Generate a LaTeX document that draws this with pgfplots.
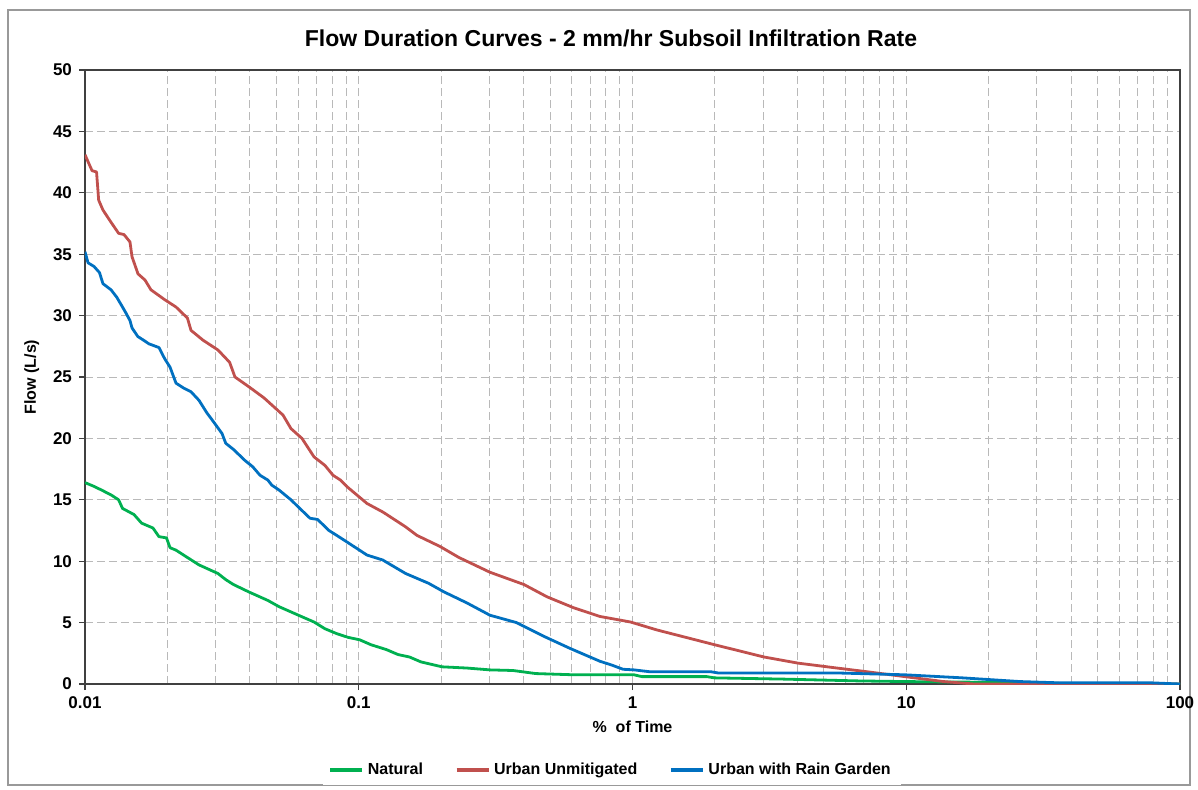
\documentclass[border=0pt]{standalone}
\usepackage{pgfplots}
\pgfplotsset{compat=1.18}
\usepackage{fontspec}
\setmainfont{Liberation Sans}
\definecolor{natgreen}{RGB}{0,176,80}
\definecolor{urbred}{RGB}{192,80,77}
\definecolor{rgblue}{RGB}{0,112,192}
\definecolor{gridgray}{RGB}{185,185,185}
\definecolor{axgray}{RGB}{64,64,64}
\begin{document}
\begin{tikzpicture}
\path[use as bounding box] (0pt,0pt) rectangle (599pt,394.5pt);
\draw[gray!80, line width=0.8pt] (4pt,2pt) rectangle (595pt,389.5pt);
\node[font=\bfseries\fontsize{11.5}{13}\selectfont] at (305.5pt,375.5pt) {Flow Duration Curves - 2 mm/hr Subsoil Infiltration Rate};
\begin{axis}[
  at={(42.5pt,52.5pt)}, anchor=south west,
  scale only axis, width=547.5pt, height=307pt,
  xmode=log, xmin=0.01, xmax=100, ymin=0, ymax=50,
  xtick={0.01,0.1,1,10,100}, xticklabels={0.01,0.1,1,10,100},
  ytick={0,5,...,50},
  /pgf/number format/assume math mode=true,
  tick label style={font=\bfseries\fontsize{8.5}{10}\selectfont},
  label style={font=\bfseries\fontsize{8}{10}\selectfont},
  xlabel={\%\ \ of Time}, ylabel={Flow (L/s)},
  xlabel style={yshift=1pt},
  ylabel style={yshift=0pt},
  grid=both,
  major grid style={gridgray, dash pattern=on 4pt off 2pt, line width=0.5pt},
  minor grid style={gridgray, dash pattern=on 4pt off 2pt, line width=0.5pt},
  axis line style={axgray, line width=0.8pt},
  tick style={axgray, line width=0.6pt},
  major tick length=3pt, minor tick length=0pt,
  tick align=outside, tick pos=left,
  legend style={at={(0.481,-0.14)}, anchor=center, draw=none, legend columns=3,
    font=\bfseries\fontsize{8}{10}\selectfont,
    /tikz/every even column/.append style={column sep=14pt}},
  legend image code/.code={\draw[#1, line width=1.6pt] (0pt,0pt) -- (16pt,0pt);},
  every axis plot/.append style={line width=1.4pt, line join=round},
]
\addplot[natgreen] coordinates {
(0.01,16.4)(0.01077,16.1)(0.01148,15.8)(0.01245,15.4)(0.01327,15.0)(0.01371,14.3)
(0.0151,13.8)(0.0161,13.1)(0.01772,12.7)(0.01863,12.0)(0.01985,11.9)(0.02045,11.1)
(0.0215,10.9)(0.02367,10.3)(0.02609,9.7)(0.0306,9.0)(0.03268,8.5)(0.03487,8.1)
(0.03966,7.5)(0.04661,6.8)(0.05112,6.3)(0.06025,5.6)(0.06863,5.05)(0.07527,4.5)
(0.08314,4.1)(0.09136,3.8)(0.1008,3.6)(0.1108,3.2)(0.1263,2.8)(0.1391,2.4)
(0.1532,2.2)(0.1688,1.8)(0.2014,1.4)(0.2485,1.3)(0.3016,1.15)(0.366,1.1)
(0.4435,0.85)(0.6112,0.75)(1.013,0.75)(1.083,0.6)(1.872,0.6)(1.993,0.5)
(3.546,0.4)(6.749,0.25)(9.895,0.2)(30.54,0.1)(35.84,0.05)(100,0)
};
\addlegendentry{Natural}
\addplot[urbred] coordinates {
(0.01,43.1)(0.01061,41.8)(0.01102,41.7)(0.01122,39.4)(0.01163,38.6)(0.01245,37.6)
(0.01327,36.7)(0.01388,36.6)(0.0146,36.0)(0.01485,34.8)(0.01562,33.4)(0.01656,32.9)
(0.01742,32.1)(0.01954,31.3)(0.0215,30.7)(0.02367,29.8)(0.02439,28.8)(0.02698,28.0)
(0.0306,27.2)(0.03375,26.2)(0.03531,25.0)(0.03972,24.2)(0.04507,23.3)(0.05288,21.9)
(0.05655,20.8)(0.06204,20.0)(0.06863,18.5)(0.07527,17.8)(0.08052,17.0)(0.08585,16.6)
(0.09136,16.0)(0.1072,14.7)(0.1226,14.0)(0.1483,12.8)(0.1633,12.1)(0.1981,11.2)
(0.2324,10.3)(0.3016,9.1)(0.4015,8.1)(0.4873,7.1)(0.6112,6.2)(0.7608,5.5)
(0.9833,5.05)(1.229,4.4)(1.993,3.2)(3.022,2.2)(4.023,1.7)(5.585,1.3)
(7.188,1.0)(9.895,0.6)(13.68,0.2)(17.68,0.0)(100,0)
};
\addlegendentry{Urban Unmitigated}
\addplot[rgblue] coordinates {
(0.01,35.2)(0.01026,34.3)(0.01079,34.0)(0.0113,33.5)(0.01163,32.6)(0.01245,32.1)
(0.01306,31.5)(0.01371,30.7)(0.01412,30.2)(0.0146,29.6)(0.01485,29.0)(0.01559,28.3)
(0.01636,28.0)(0.01713,27.7)(0.01863,27.4)(0.01954,26.5)(0.02045,25.8)(0.0215,24.5)
(0.02293,24.1)(0.02439,23.8)(0.02609,23.1)(0.02784,22.1)(0.0296,21.3)(0.03166,20.4)
(0.03268,19.6)(0.03487,19.1)(0.03842,18.2)(0.04096,17.7)(0.04358,17.0)(0.04661,16.6)
(0.04808,16.2)(0.05112,15.8)(0.05655,15.0)(0.06025,14.4)(0.06636,13.5)(0.07074,13.4)
(0.07787,12.5)(0.08314,12.1)(0.08864,11.7)(0.1072,10.5)(0.1223,10.1)(0.1483,9.0)
(0.18,8.2)(0.2049,7.5)(0.2485,6.6)(0.3016,5.6)(0.3772,5.0)(0.4727,3.9)
(0.5912,2.9)(0.7608,1.85)(0.8381,1.55)(0.9233,1.2)(1.013,1.15)(1.155,1.0)
(1.931,1.0)(2.053,0.9)(5.567,0.9)(9.895,0.75)(16.07,0.5)(26.03,0.2)
(35.84,0.1)(77.7,0.1)(100,0)
};
\addlegendentry{Urban with Rain Garden}
\end{axis}
\end{tikzpicture}
\end{document}
